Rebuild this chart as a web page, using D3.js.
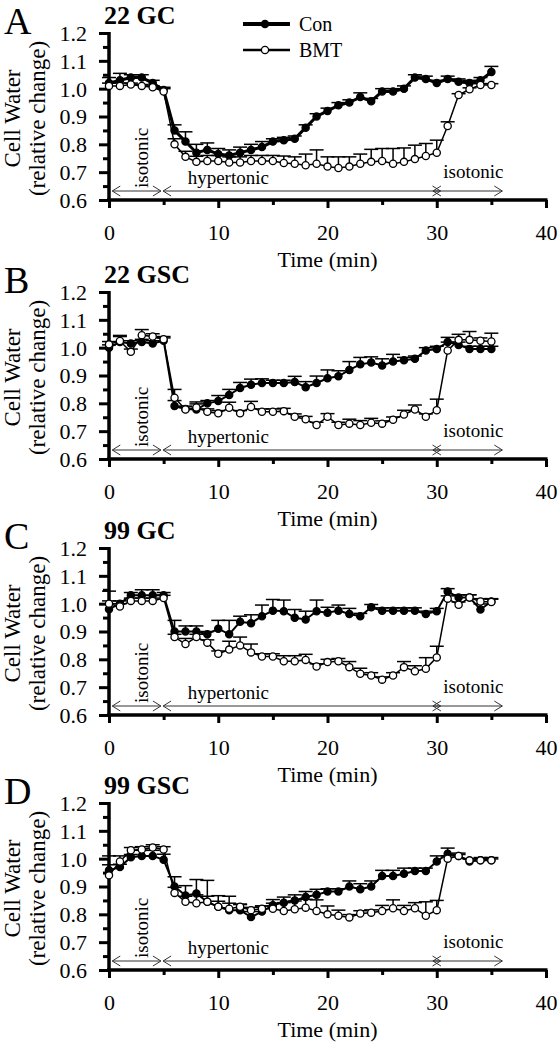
<!DOCTYPE html>
<html><head><meta charset="utf-8">
<script src="https://cdn.jsdelivr.net/npm/d3@7/dist/d3.min.js"></script>
<style>
html,body{margin:0;padding:0;background:#fff;}
svg{display:block;font-family:"Liberation Serif","Times New Roman",serif;}
</style></head>
<body>
<svg id="chart" width="557" height="1050"></svg>
<script>
// ---------- DATA ----------
const time = [0,1,2,3,4,5,6,7,8,9,10,11,12,13,14,15,16,17,18,19,20,21,22,23,24,25,26,27,28,29,30,31,32,33,34,35];
const xTicks = [0,10,20,30,40];
const yTicks = [0.6,0.7,0.8,0.9,1.0,1.1,1.2];
const panelLetters = ["A","B","C","D"];
const panelTitles = ["22 GC","22 GSC","99 GC","99 GSC"];
const seriesNames = ["Con","BMT"];

const conA = [1.02,1.03,1.04,1.04,1.02,0.995,0.85,0.81,0.77,0.78,0.765,0.76,0.77,0.78,0.79,0.81,0.815,0.82,0.86,0.90,0.92,0.94,0.95,0.97,0.955,0.99,0.99,1.00,1.04,1.035,1.02,1.035,1.025,1.02,1.03,1.06];
const conAErr = [0.02,0.025,0.01,0.01,0.01,0.01,0.02,0.035,0.03,0.025,0.02,0.02,0.02,0.02,0.02,0.01,0.01,0.01,0.01,0.01,0.01,0.01,0.01,0.015,0.01,0.01,0.01,0.01,0.01,0.01,0.01,0.01,0.01,0.01,0.01,0.02];
const bmtA = [1.01,1.01,1.015,1.01,1.005,0.99,0.80,0.755,0.737,0.74,0.74,0.735,0.735,0.74,0.74,0.74,0.733,0.73,0.725,0.73,0.72,0.715,0.72,0.73,0.737,0.74,0.73,0.737,0.747,0.758,0.77,0.866,0.977,0.998,1.013,1.013];
const bmtAErr = [0.01,0.01,0.005,0.005,0.005,0.01,0.02,0.02,0.02,0.02,0.02,0.02,0.02,0.02,0.02,0.02,0.025,0.025,0.04,0.05,0.035,0.04,0.035,0.035,0.045,0.045,0.055,0.05,0.05,0.045,0.045,0.015,0.005,0.005,0.005,0.005];

const conB = [1.0,1.02,1.015,1.02,1.015,1.025,0.79,0.78,0.778,0.80,0.808,0.83,0.855,0.867,0.873,0.873,0.873,0.877,0.858,0.873,0.89,0.897,0.92,0.94,0.947,0.936,0.95,0.955,0.96,0.99,0.995,1.02,1.01,0.995,0.995,0.995];
const conBErr = [0.01,0.02,0.01,0.01,0.01,0.01,0.02,0.01,0.02,0.01,0.02,0.02,0.02,0.02,0.015,0.01,0.01,0.02,0.02,0.025,0.03,0.02,0.03,0.025,0.02,0.024,0.026,0.01,0.01,0.01,0.01,0.017,0.01,0.01,0.01,0.01];
const bmtB = [1.012,1.024,0.985,1.045,1.04,1.03,0.82,0.778,0.785,0.77,0.764,0.784,0.764,0.787,0.77,0.77,0.772,0.752,0.743,0.722,0.752,0.722,0.727,0.722,0.73,0.727,0.741,0.76,0.778,0.752,0.775,0.99,1.028,1.028,1.025,1.022];
const bmtBErr = [0.01,0.02,0.01,0.02,0.01,0.01,0.03,0.01,0.02,0.01,0.01,0.02,0.01,0.02,0.01,0.01,0.01,0.01,0.01,0.01,0.011,0.01,0.016,0.016,0.016,0.01,0.01,0.015,0.016,0.01,0.04,0.03,0.02,0.03,0.01,0.03];

const conC = [0.98,1.0,1.03,1.03,1.03,1.03,0.90,0.90,0.90,0.89,0.91,0.89,0.935,0.93,0.955,0.975,0.973,0.949,0.943,0.973,0.967,0.975,0.963,0.955,0.987,0.975,0.975,0.975,0.975,0.963,0.973,1.044,1.022,1.022,0.979,1.008];
const conCErr = [0.065,0.01,0.01,0.02,0.02,0.01,0.04,0.02,0.02,0.01,0.03,0.05,0.02,0.03,0.04,0.04,0.04,0.03,0.03,0.04,0.02,0.02,0.02,0.01,0.01,0.01,0.01,0.01,0.01,0.01,0.01,0.01,0.01,0.01,0.02,0.01];
const bmtC = [1.0,0.99,1.01,1.01,1.01,1.02,0.88,0.855,0.88,0.86,0.82,0.835,0.85,0.825,0.81,0.81,0.793,0.793,0.798,0.774,0.79,0.793,0.772,0.748,0.742,0.727,0.742,0.772,0.757,0.766,0.807,1.018,0.996,1.022,1.008,1.006];
const bmtCErr = [0.01,0.01,0.01,0.01,0.01,0.01,0.01,0.02,0.01,0.01,0.01,0.03,0.03,0.03,0.01,0.01,0.02,0.02,0.02,0.01,0.01,0.01,0.02,0.02,0.01,0.01,0.01,0.02,0.02,0.04,0.04,0.01,0.01,0.01,0.01,0.01];

const conD = [0.958,0.97,1.005,1.01,1.01,0.996,0.90,0.868,0.875,0.845,0.827,0.815,0.815,0.79,0.81,0.833,0.842,0.85,0.862,0.87,0.882,0.882,0.90,0.89,0.90,0.938,0.938,0.946,0.956,0.956,0.99,1.018,1.01,0.99,0.994,0.994];
const conDErr = [0.02,0.01,0.01,0.02,0.02,0.02,0.035,0.035,0.05,0.077,0.04,0.05,0.02,0.02,0.02,0.02,0.02,0.02,0.02,0.02,0.01,0.01,0.02,0.02,0.02,0.02,0.02,0.02,0.01,0.01,0.02,0.02,0.01,0.01,0.01,0.01];
const bmtD = [0.94,0.99,1.03,1.033,1.04,1.033,0.877,0.845,0.84,0.845,0.827,0.82,0.827,0.815,0.82,0.82,0.812,0.818,0.824,0.812,0.80,0.795,0.789,0.803,0.806,0.812,0.822,0.812,0.822,0.795,0.815,1.0,1.01,0.994,0.994,0.994];
const bmtDErr = [0.07,0.02,0.01,0.01,0.01,0.01,0.02,0.02,0.03,0.02,0.02,0.02,0.01,0.01,0.01,0.02,0.03,0.03,0.03,0.04,0.03,0.02,0.01,0.01,0.01,0.02,0.03,0.02,0.02,0.05,0.035,0.01,0.005,0.005,0.005,0.005];

const conAll = [conA, conB, conC, conD];
const conErrAll = [conAErr, conBErr, conCErr, conDErr];
const bmtAll = [bmtA, bmtB, bmtC, bmtD];
const bmtErrAll = [bmtAErr, bmtBErr, bmtCErr, bmtDErr];

// ---------- LAYOUT ----------
const W = 557, H = 1050;
const panelTops = [33, 292, 548, 803];
const plotH = 167;
const xLeft = 109, xRight = 546;
const FONT = '"Liberation Serif","Times New Roman",serif';

const svg = d3.select("#chart");
const x = d3.scaleLinear().domain([0,40]).range([xLeft, xRight]);

function arrowSeg(g, x1, x2, y) {
  const s = 8, h = 5;
  g.append("line").attr("x1", x1).attr("x2", x2).attr("y1", y).attr("y2", y);
  g.append("path").attr("d", `M${x1+s},${y-h}L${x1},${y}L${x1+s},${y+h}`);
  g.append("path").attr("d", `M${x2-s},${y-h}L${x2},${y}L${x2-s},${y+h}`);
}

panelTops.forEach((top, i) => {
  const bottom = top + plotH;
  const y = d3.scaleLinear().domain([0.6, 1.2]).range([bottom, top]);
  const g = svg.append("g");

  // panel letter and title
  g.append("text").attr("x", 4).attr("y", top + 1)
    .attr("font-size", 38).attr("font-family", FONT).text(panelLetters[i]);
  g.append("text").attr("x", 104).attr("y", top - 9)
    .attr("font-size", 26).attr("font-weight", "bold").attr("font-family", FONT).text(panelTitles[i]);

  // y axis
  const yAxis = d3.axisLeft(y).tickValues(yTicks).tickFormat(d3.format(".1f")).tickSize(10).tickPadding(12);
  const yMinor = d3.axisLeft(y).tickValues([0.65,0.75,0.85,0.95,1.05,1.15]).tickFormat("").tickSize(6);
  const ya = g.append("g").attr("transform", `translate(${xLeft},0)`).call(yAxis);
  const ym = g.append("g").attr("transform", `translate(${xLeft},0)`).call(yMinor);
  [ya, ym].forEach(a => {
    a.select(".domain").remove();
    a.selectAll(".tick line").attr("stroke", "#000").attr("stroke-width", 3);
  });
  ya.selectAll(".tick text").attr("font-size", 22).attr("font-family", FONT).attr("fill", "#000").attr("dy", "0.34em");
  g.append("line").attr("x1", xLeft).attr("x2", xLeft).attr("y1", top - 1).attr("y2", bottom + 1)
    .attr("stroke", "#000").attr("stroke-width", 3.5);

  // x axis
  const xAxis = d3.axisBottom(x).tickValues(xTicks).tickFormat(d3.format("d")).tickSize(8).tickPadding(16);
  const xMinor = d3.axisBottom(x).tickValues([5,15,25,35]).tickFormat("").tickSize(5);
  const xa = g.append("g").attr("transform", `translate(0,${bottom})`).call(xAxis);
  const xm = g.append("g").attr("transform", `translate(0,${bottom})`).call(xMinor);
  [xa, xm].forEach(a => {
    a.select(".domain").remove();
    a.selectAll(".tick line").attr("stroke", "#000").attr("stroke-width", 3);
  });
  xa.selectAll(".tick text").attr("font-size", 22).attr("font-family", FONT).attr("fill", "#000");
  g.append("line").attr("x1", xLeft - 2).attr("x2", xRight + 1.5).attr("y1", bottom).attr("y2", bottom)
    .attr("stroke", "#000").attr("stroke-width", 3.5);

  // axis titles
  const cy = (top + bottom) / 2 + 2;
  g.append("text").attr("transform", `translate(20,${cy}) rotate(-90)`).attr("text-anchor", "middle")
    .attr("font-size", 23).attr("font-family", FONT).text("Cell Water");
  g.append("text").attr("transform", `translate(45,${cy}) rotate(-90)`).attr("text-anchor", "middle")
    .attr("font-size", 23).attr("font-family", FONT).text("(relative change)");
  g.append("text").attr("x", x(20)).attr("y", bottom + 67).attr("text-anchor", "middle")
    .attr("font-size", 22).attr("font-family", FONT).text("Time (min)");

  // condition annotation
  const ay = bottom - 9;
  const ag = g.append("g").attr("stroke", "#333").attr("stroke-width", 1).attr("fill", "none");
  arrowSeg(ag, x(0.3), x(4.75), ay);
  arrowSeg(ag, x(4.95), x(30.35), ay);
  arrowSeg(ag, x(29.65), x(36), ay);
  g.append("text").attr("transform", `translate(${x(3.6)},${bottom - 12}) rotate(-90)`)
    .attr("font-size", 19).attr("font-family", FONT).text("isotonic");
  g.append("text").attr("x", x(7.2)).attr("y", bottom - 16)
    .attr("font-size", 19).attr("font-family", FONT).text("hypertonic");
  g.append("text").attr("x", x(30.6)).attr("y", bottom - 22)
    .attr("font-size", 19).attr("font-family", FONT).text("isotonic");

  // series
  const series = [
    {vals: conAll[i], err: conErrAll[i], filled: true, lw: i === 0 ? 3 : 2},
    {vals: bmtAll[i], err: bmtErrAll[i], filled: false, lw: 1.5}
  ];
  series.forEach(s => {
    const pts = time.map((t, k) => ({t, v: s.vals[k], e: s.err[k]}));
    const eg = g.append("g").attr("stroke", "#000").attr("stroke-width", 1.5);
    eg.selectAll("line.v").data(pts).join("line")
      .attr("x1", d => x(d.t)).attr("x2", d => x(d.t))
      .attr("y1", d => y(d.v)).attr("y2", d => y(d.v + d.e));
    eg.selectAll("line.c").data(pts).join("line")
      .attr("x1", d => x(d.t) - 7).attr("x2", d => x(d.t) + 7)
      .attr("y1", d => y(d.v + d.e)).attr("y2", d => y(d.v + d.e));
  });
  series.forEach(s => {
    const pts = time.map((t, k) => ({t, v: s.vals[k]}));
    g.append("path").datum(pts)
      .attr("d", d3.line().x(d => x(d.t)).y(d => y(d.v)))
      .attr("fill", "none").attr("stroke", "#000").attr("stroke-width", s.lw);
    g.append("g").selectAll("circle").data(pts).join("circle")
      .attr("cx", d => x(d.t)).attr("cy", d => y(d.v)).attr("r", 3.6)
      .attr("fill", s.filled ? "#000" : "#fff").attr("stroke", "#000").attr("stroke-width", 1.3);
  });

  // legend (panel A only)
  if (i === 0) {
    const lg = svg.append("g");
    [0, 1].forEach(j => {
      const ly = j === 0 ? 24 : 50;
      lg.append("line").attr("x1", 243).attr("x2", 290).attr("y1", ly).attr("y2", ly)
        .attr("stroke", "#000").attr("stroke-width", j === 0 ? 4 : 2.5);
      lg.append("circle").attr("cx", 265).attr("cy", ly).attr("r", 3.6)
        .attr("fill", j === 0 ? "#000" : "#fff").attr("stroke", "#000").attr("stroke-width", 1.3);
      lg.append("text").attr("x", 299).attr("y", ly + 7).attr("font-size", 20)
        .attr("font-family", FONT).text(seriesNames[j]);
    });
  }
});
</script>
</body></html>
